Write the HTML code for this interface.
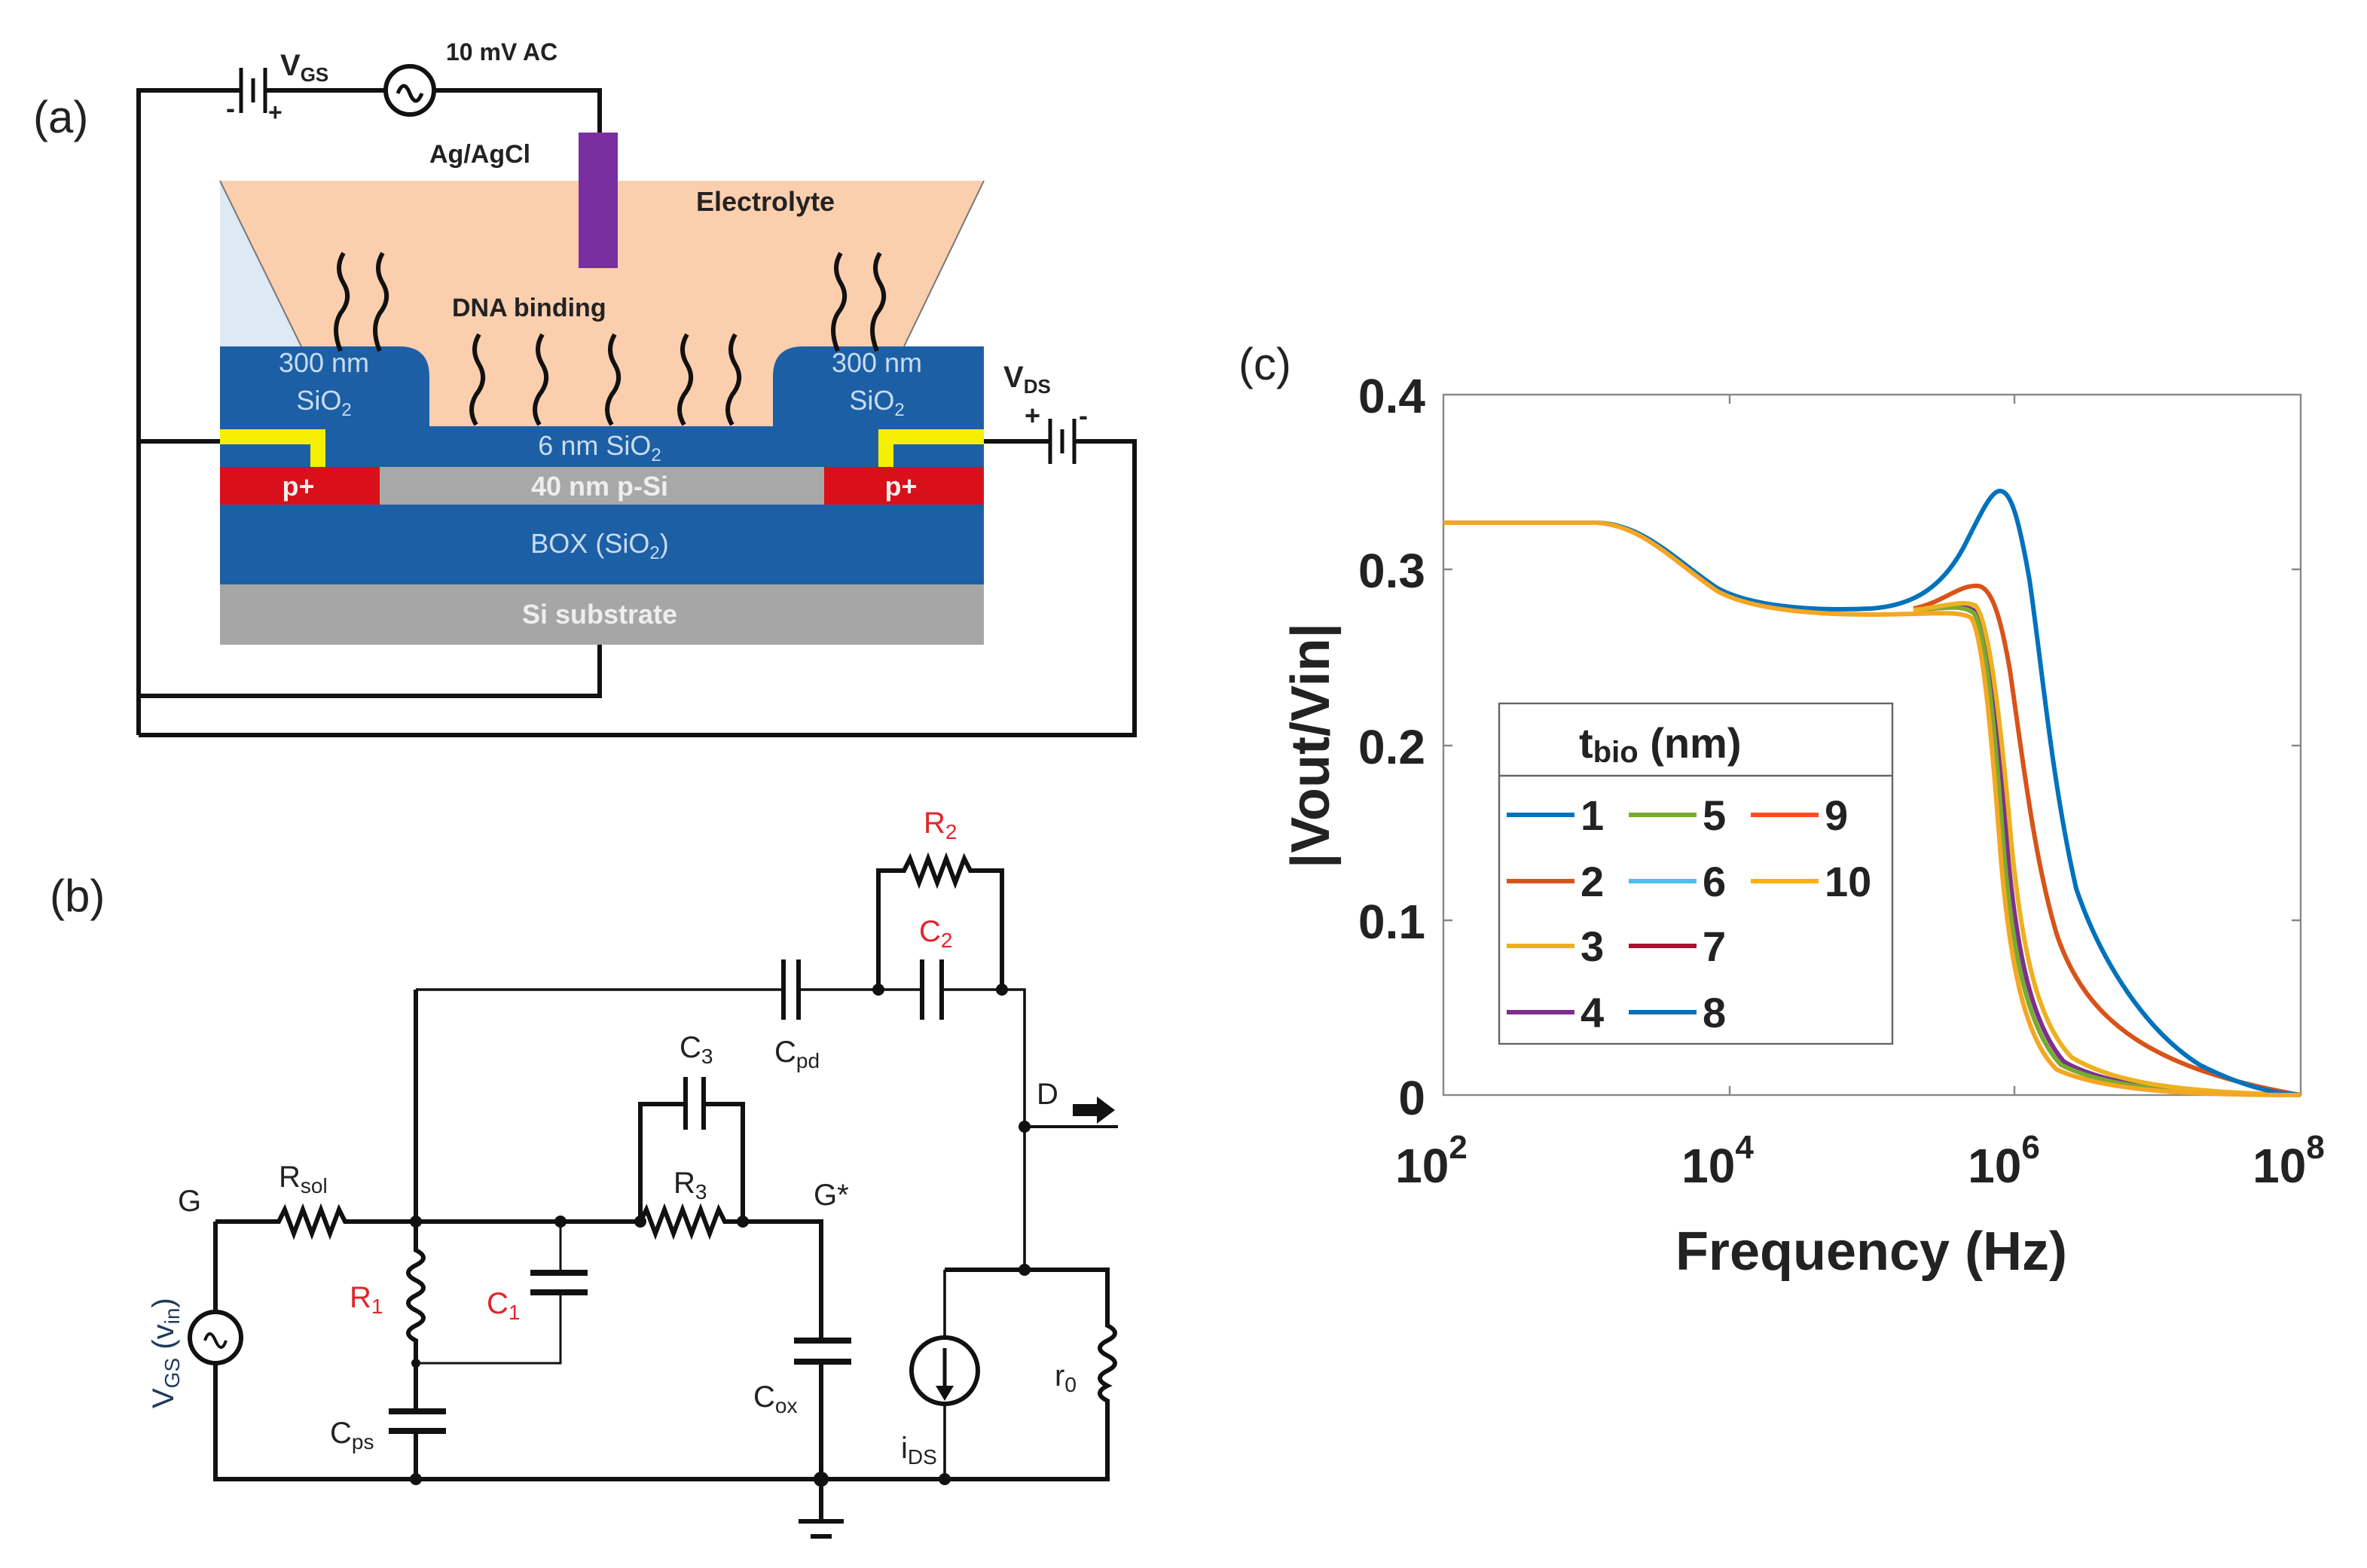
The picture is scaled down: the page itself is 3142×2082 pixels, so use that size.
<!DOCTYPE html>
<html><head><meta charset="utf-8"><style>html,body{margin:0;padding:0;background:#fff}svg{display:block}</style></head>
<body>
<svg width="3142" height="2082" viewBox="0 0 1571 1041" xmlns="http://www.w3.org/2000/svg" font-family="Liberation Sans, sans-serif">
<rect width="1571" height="1041" fill="#fff"/>
<!-- Panel a -->
<text x="22" y="88" font-size="30" fill="#222">(a)</text>
<polygon points="146,120 200,230 146,230" fill="#dde9f5"/>
<polygon points="146,120 653,120 600,230 200,230" fill="#fbcfae"/>
<rect x="200" y="228" width="400" height="57" fill="#fbcfae"/>
<line x1="146" y1="120" x2="200" y2="230" stroke="#777" stroke-width="1"/>
<line x1="653" y1="120" x2="600" y2="230" stroke="#777" stroke-width="1"/>
<path d="M146,230 H265 Q285,230 285,250 V283 H146 Z" fill="#1d5fa5"/>
<path d="M653,230 H533 Q513,230 513,250 V283 H653 Z" fill="#1d5fa5"/>
<rect x="146" y="283" width="507" height="27" fill="#1d5fa5"/>
<rect x="146" y="310" width="507" height="25" fill="#a8a8a8"/>
<rect x="146" y="310" width="106" height="25" fill="#d90f1a"/>
<rect x="547" y="310" width="106" height="25" fill="#d90f1a"/>
<path d="M146,285 H216 V310 H206 V295 H146 Z" fill="#f5ef00"/>
<path d="M653,285 H583 V310 H593 V295 H653 Z" fill="#f5ef00"/>
<rect x="146" y="335" width="507" height="53" fill="#1d5fa5"/>
<rect x="146" y="388" width="507" height="40" fill="#a6a6a6"/>
<rect x="384" y="88" width="26" height="90" fill="#7a2fa0"/>
<g fill="none" stroke="#111" stroke-width="3">
<path d="M92,488 V60 H160 M176,60 H255 M289,60 H398 V88"/>
<path d="M160,45 V75 M168,52 V68 M176,45 V75" stroke-width="2.5"/>
<circle cx="272" cy="60" r="16"/>
<path d="M264,62 q4,-10 8,0 q4,10 8,0" stroke-width="2.5"/>
<path d="M92,293 H146"/>
<path d="M653,293 H697 M713,293 H753 V488 H92"/>
<path d="M697,278 V308 M705,285 V301 M713,278 V308" stroke-width="2.5"/>
<path d="M398,428 V462 H92"/>
</g>
<g fill="none" stroke="#111" stroke-width="3">
<path d="M228,168 q-6,10 0,20 q6,10 -2,20 q-6,10 0,25"/>
<path d="M254,168 q-6,10 0,20 q6,10 -2,20 q-6,10 0,25"/>
<path d="M558,168 q-6,10 0,20 q6,10 -2,20 q-6,10 0,25"/>
<path d="M584,168 q-6,10 0,20 q6,10 -2,20 q-6,10 0,25"/>
<path d="M318,222 q-6,10 0,20 q6,10 -2,20 q-6,10 0,20"/>
<path d="M360,222 q-6,10 0,20 q6,10 -2,20 q-6,10 0,20"/>
<path d="M408,222 q-6,10 0,20 q6,10 -2,20 q-6,10 0,20"/>
<path d="M456,222 q-6,10 0,20 q6,10 -2,20 q-6,10 0,20"/>
<path d="M488,222 q-6,10 0,20 q6,10 -2,20 q-6,10 0,20"/>
</g>
<g font-weight="bold" fill="#222">
<text x="186" y="50" font-size="20">V<tspan font-size="13" dy="4">GS</tspan></text>
<text x="296" y="40" font-size="16">10 mV AC</text>
<text x="285" y="108" font-size="17">Ag/AgCl</text>
<text x="462" y="140" font-size="18">Electrolyte</text>
<text x="300" y="210" font-size="17">DNA binding</text>
<text x="666" y="257" font-size="20">V<tspan font-size="13" dy="4">DS</tspan></text>
<text x="680" y="282" font-size="18">+</text><text x="716" y="282" font-size="18">-</text>
<text x="150" y="78" font-size="18">-</text><text x="178" y="80" font-size="16">+</text>
</g>
<g fill="#c8dcf2" font-size="18" text-anchor="middle">
<text x="215" y="247">300 nm</text><text x="215" y="272">SiO<tspan font-size="12" dy="4">2</tspan></text>
<text x="582" y="247">300 nm</text><text x="582" y="272">SiO<tspan font-size="12" dy="4">2</tspan></text>
<text x="398" y="302">6 nm SiO<tspan font-size="12" dy="4">2</tspan></text>
<text x="398" y="367">BOX (SiO<tspan font-size="12" dy="4">2</tspan><tspan dy="-4">)</tspan></text>
</g>
<g fill="#eee" font-size="18" font-weight="bold" text-anchor="middle">
<text x="398" y="329">40 nm p-Si</text>
<text x="398" y="414">Si substrate</text>
<text x="198" y="329">p+</text><text x="598" y="329">p+</text>
</g>
<!-- Panel b -->
<text x="33" y="605" font-size="30" fill="#222">(b)</text>
<g fill="none" stroke="#111" stroke-width="3">
<path d="M143,811 H185 l4,-8 l6,16 l6,-16 l6,16 l6,-16 l6,16 l6,-16 l4,8 H425 l4,-8 l6,16 l6,-16 l6,16 l6,-16 l6,16 l6,-16 l6,16 l6,-16 l4,8 H545 V891"/>
<path d="M545,903 V1010 M530,1010 H560 M538,1020 H552" />
<path d="M527,890 H565 M527,904 H565" stroke-width="4"/>
<path d="M143,811 V871 M143,905 V982 H735 V940"/>
<circle cx="143" cy="888" r="17"/>
<path d="M136,890 q3,-9 7,0 q4,9 7,0" stroke-width="2"/>
<path d="M276,657 V830 q10,5 0,10 q-10,5 0,10 q10,5 0,10 q-10,5 0,10 q10,5 0,10 q-10,5 0,10 V937 M276,950 V982"/>
<path d="M258,937 H296 M258,950 H296" stroke-width="4"/>
<path d="M276,905 H372 V858 M372,845 V811" stroke-width="1.5"/>
<path d="M352,845 H390 M352,858 H390" stroke-width="4"/>
<path d="M425,811 V733 H455 M467,733 H493 V811" />
<path d="M455,715 V750 M467,715 V750" stroke-width="3"/>
<path d="M276,657 H520 M530,657 H612 M625,657 H680 V843" stroke-width="1.8"/>
<path d="M520,637 V677 M530,637 V677 M612,637 V677 M625,637 V677" stroke-width="3"/>
<path d="M583,657 V578 H600 l4,-8 l6,16 l6,-16 l6,16 l6,-16 l6,16 l6,-16 l4,8 H665 V657"/>
<path d="M680,748 H742" stroke-width="2"/>
<path d="M627,843 H735 V880 q10,5 0,10 q-10,5 0,10 q10,5 0,10 q-10,5 0,10 q-10,5 0,10 V940"/>
<path d="M627,843 V888 M627,932 V982" stroke-width="1.8"/>
<circle cx="627" cy="910" r="22"/>
<path d="M627,895 V925" stroke-width="2.5"/>
</g>
<path d="M621,920 L627,930 L633,920 Z" fill="#111"/>
<path d="M712,733 H728 V728 L740,737 L728,746 V741 H712 Z" fill="#111"/>
<g fill="#111">
<circle cx="276" cy="811" r="4"/><circle cx="372" cy="811" r="4"/><circle cx="425" cy="811" r="4"/><circle cx="493" cy="811" r="4"/>
<circle cx="276" cy="905" r="3"/><circle cx="276" cy="982" r="4"/><circle cx="545" cy="982" r="5"/><circle cx="627" cy="982" r="4"/>
<circle cx="583" cy="657" r="4"/><circle cx="665" cy="657" r="4"/><circle cx="680" cy="748" r="4"/><circle cx="680" cy="843" r="4"/>
</g>
<g font-size="20" fill="#222">
<text x="118" y="804">G</text>
<text x="185" y="788">R<tspan font-size="14" dy="4">sol</tspan></text>
<text x="447" y="792">R<tspan font-size="14" dy="4">3</tspan></text>
<text x="451" y="702">C<tspan font-size="14" dy="4">3</tspan></text>
<text x="540" y="800">G*</text>
<text x="514" y="705">C<tspan font-size="14" dy="4">pd</tspan></text>
<text x="688" y="733">D</text>
<text x="219" y="958">C<tspan font-size="14" dy="4">ps</tspan></text>
<text x="500" y="934">C<tspan font-size="14" dy="4">ox</tspan></text>
<text x="598" y="968">i<tspan font-size="14" dy="4">DS</tspan></text>
<text x="700" y="920">r<tspan font-size="14" dy="4">0</tspan></text>
</g>
<g font-size="20" fill="#e0262b">
<text x="613" y="553">R<tspan font-size="14" dy="4">2</tspan></text>
<text x="610" y="625">C<tspan font-size="14" dy="4">2</tspan></text>
<text x="232" y="868">R<tspan font-size="14" dy="4">1</tspan></text>
<text x="323" y="872">C<tspan font-size="14" dy="4">1</tspan></text>
</g>
<text transform="translate(115,935) rotate(-90)" font-size="20" fill="#1f3a5a">V<tspan font-size="14" dy="4">GS</tspan><tspan dy="-4"> (v</tspan><tspan font-size="14" dy="4">in</tspan><tspan dy="-4">)</tspan></text>
<!-- Panel c -->
<text x="822" y="252" font-size="30" fill="#222">(c)</text>
<rect x="958" y="262" width="569" height="465" fill="none" stroke="#888" stroke-width="1.2"/>
<g stroke="#888" stroke-width="1.2">
<path d="M958,378 h6 M958,495 h6 M958,611 h6 M1527,378 h-6 M1527,495 h-6 M1527,611 h-6"/>
<path d="M1148,727 v-6 M1337,727 v-6 M1148,262 v6 M1337,262 v6"/>
</g>
<g font-weight="bold" fill="#222" font-size="32">
<text x="946" y="274" text-anchor="end">0.4</text>
<text x="946" y="390" text-anchor="end">0.3</text>
<text x="946" y="507" text-anchor="end">0.2</text>
<text x="946" y="623" text-anchor="end">0.1</text>
<text x="946" y="740" text-anchor="end">0</text>
<text x="950" y="785" text-anchor="middle">10<tspan font-size="22" dy="-16">2</tspan></text>
<text x="1140" y="785" text-anchor="middle">10<tspan font-size="22" dy="-16">4</tspan></text>
<text x="1330" y="785" text-anchor="middle">10<tspan font-size="22" dy="-16">6</tspan></text>
<text x="1519" y="785" text-anchor="middle">10<tspan font-size="22" dy="-16">8</tspan></text>
<text x="1242" y="843" text-anchor="middle" font-size="36">Frequency (Hz)</text>
<text transform="translate(882,495) rotate(-90)" text-anchor="middle" font-size="36">|Vout/Vin|</text>
</g>
<g fill="none" stroke-width="3" stroke-linejoin="round">
<path stroke="#d95319" d="M1270,404 C1290,400 1300,388 1313,389 C1322,390 1328,410 1334,445 C1342,500 1350,570 1365,620 C1385,680 1430,710 1527,727"/>
<path stroke="#7e2f8e" d="M1270,405 C1290,404 1303,400 1311,406 C1320,415 1326,480 1332,560 C1338,630 1348,680 1370,705 C1400,722 1450,726 1527,727"/>
<path stroke="#77ac30" d="M1270,405 C1290,404 1302,401 1310,407 C1318,418 1324,485 1330,565 C1336,635 1346,684 1368,707 C1400,723 1450,726 1527,727"/>
<path stroke="#edb120" d="M1270,405 C1290,403 1302,398 1311,402 C1320,410 1328,480 1335,560 C1342,630 1352,678 1375,702 C1405,720 1450,725 1527,727"/>
<path stroke="#0072bd" d="M958,347 L1060,347 C1090,348 1110,370 1139,390 C1160,402 1200,406 1242,404 C1270,402 1290,390 1305,360 C1315,340 1322,325 1328,326 C1335,327 1340,345 1347,385 C1355,440 1362,520 1378,590 C1395,640 1425,685 1460,707 C1490,722 1510,726 1527,727"/>
<path stroke="#f5a623" d="M958,347 L1060,347 C1090,349 1110,372 1139,392 C1160,404 1200,408 1242,408 C1280,408 1300,405 1308,410 C1316,420 1322,490 1328,570 C1334,640 1344,690 1365,710 C1395,724 1450,727 1527,727"/>
</g>
<rect x="995" y="467" width="261" height="226" fill="#fff" stroke="#666" stroke-width="1.2"/>
<line x1="995" y1="515" x2="1256" y2="515" stroke="#666" stroke-width="1.2"/>
<text x="1048" y="503" font-size="28" font-weight="bold" fill="#222">t<tspan font-size="20" dy="3">bio</tspan><tspan dy="-3"> (nm)</tspan></text>
<g stroke-width="3">
<line x1="1000" y1="541" x2="1045" y2="541" stroke="#0072bd"/>
<line x1="1000" y1="585" x2="1045" y2="585" stroke="#d95319"/>
<line x1="1000" y1="628" x2="1045" y2="628" stroke="#edb120"/>
<line x1="1000" y1="672" x2="1045" y2="672" stroke="#7e2f8e"/>
<line x1="1081" y1="541" x2="1126" y2="541" stroke="#77ac30"/>
<line x1="1081" y1="585" x2="1126" y2="585" stroke="#4dbeee"/>
<line x1="1081" y1="628" x2="1126" y2="628" stroke="#a2142f"/>
<line x1="1081" y1="672" x2="1126" y2="672" stroke="#0072bd"/>
<line x1="1162" y1="541" x2="1207" y2="541" stroke="#ff4a1c"/>
<line x1="1162" y1="585" x2="1207" y2="585" stroke="#ffb000"/>
</g>
<g font-size="28" font-weight="bold" fill="#222">
<text x="1049" y="551">1</text><text x="1049" y="595">2</text><text x="1049" y="638">3</text><text x="1049" y="682">4</text>
<text x="1130" y="551">5</text><text x="1130" y="595">6</text><text x="1130" y="638">7</text><text x="1130" y="682">8</text>
<text x="1211" y="551">9</text><text x="1211" y="595">10</text>
</g>
</svg>
</body></html>
